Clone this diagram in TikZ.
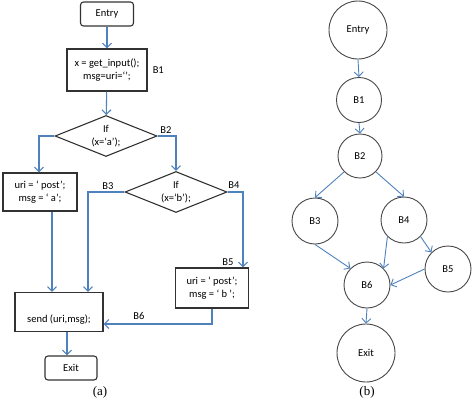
\documentclass[tikz,border=0pt]{standalone}
\usepackage{fontspec}
\setmainfont{Carlito}
\newfontfamily\capfont{Liberation Serif}
\usetikzlibrary{arrows.meta}
\usetikzlibrary{positioning}
\usetikzlibrary{shapes.geometric}
\definecolor{flowblue}{RGB}{79,129,189}
\definecolor{boxgray}{RGB}{50,50,50}

\begin{document}
\begin{tikzpicture}[x=1pt,y=-1pt,>={Straight Barb[length=4.5pt,width=9pt]},
  font=\fontsize{10.5}{13}\selectfont,
  flow/.style={->,draw=flowblue,line width=1.1pt},
  term node/.style={rectangle,rounded corners=3pt,draw=boxgray,line width=1.1pt,
    minimum width=53pt,minimum height=24pt,inner sep=0pt},
  block node/.style={rectangle,draw=boxgray,line width=1.1pt,align=center,inner sep=0pt},
  cond node/.style={diamond,draw=boxgray,line width=1.1pt,align=center,inner sep=0pt,
    aspect=2.5,minimum width=102pt,minimum height=41pt},
  main node/.style={circle,draw=boxgray!90,line width=0.9pt,inner sep=0pt,minimum size=45pt},
  big node/.style={main node,minimum size=58pt},
  tag/.style={inner sep=0pt}]

  \useasboundingbox (0,0) rectangle (472,402);

  % (a) control flow chart
  \node[term node] (entry) at (107,14) {Entry};
  \node[block node,minimum width=80pt,minimum height=42pt] (b1) at (107,70)
    {x = get\_input();\\msg=uri=‘’;};
  \node[cond node] (b2) at (106,136) {If\\(x=‘a’);};
  \node[block node,minimum width=74pt,minimum height=38pt] (b3) at (40,192)
    {uri = ‘ post’;\\msg = ‘ a’;};
  \node[cond node] (b4) at (176,192) {If\\(x=‘b’);};
  \node[block node,minimum width=73pt,minimum height=40pt] (b5) at (212,288)
    {uri = ‘ post’;\\msg = ‘ b ’;};
  \node[block node,minimum width=88pt,minimum height=39pt] (b6) at (59,312)
    {\strut\\send (uri,msg);};
  \node[term node,minimum width=52pt] (exit) at (71,368) {Exit};

  \node[tag,right=5pt of b1] (lb1) {B1};
  \node[tag] (lb2) at (166,130) {B2};
  \node[tag] (lb3) at (108,186) {B3};
  \node[tag] (lb4) at (234,185) {B4};
  \node[tag] (lb5) at (228,262) {B5};
  \node[tag] (lb6) at (139,316) {B6};

  \draw[flow] (entry) -- (b1);
  \draw[flow] (b1) -- (b2);
  \draw[flow] (b2.west) -| ([xshift=-1pt]b3.north);
  \draw[flow] (b2.east) -| (b4.north);
  \draw[flow] (b4.west) -| ([xshift=29pt]b6.north);
  \draw[flow] (b4.east) -| ([xshift=31pt]b5.north);
  \draw[flow] ([xshift=12pt]b3.south) -- ([xshift=-7pt]b6.north);
  \draw[flow] (b5.south) |- ([yshift=-12pt]b6.east);
  \draw[flow] ([xshift=8pt]b6.south) -- ([xshift=-4pt]exit.north);

  % (b) control flow graph
  \node[big node] (v0) at (358,30) {Entry};
  \node[main node] (v1) at (359,100) {B1};
  \node[main node,minimum size=44pt] (v2) at (360,156) {B2};
  \node[main node,minimum size=46pt] (v3) at (315,221) {B3};
  \node[main node,minimum size=46pt] (v4) at (404,220) {B4};
  \node[main node,minimum size=46pt] (v5) at (448,269) {B5};
  \node[main node,minimum size=46pt] (v6) at (367,285) {B6};
  \node[big node] (v7) at (366,353) {Exit};

  \path[every edge/.style={flow,line width=0.9pt}]
    (v0.south) edge (v1.north)
    (v1.south) edge (v2.north)
    (v2.south west) edge (v3.north)
    (v2.south east) edge (v4.north)
    (v3.south) edge (v6.north west)
    (v4.south west) edge (v6.north east)
    (v4.south east) edge (v5.north west)
    (v5.west) edge (v6.east)
    (v6.south) edge (v7.north);

  \node[font=\capfont\fontsize{13}{15}\selectfont] (capa) at (100,392) {(a)};
  \node[font=\capfont\fontsize{13}{15}\selectfont] (capb) at (367,392) {(b)};
\end{tikzpicture}
\end{document}
